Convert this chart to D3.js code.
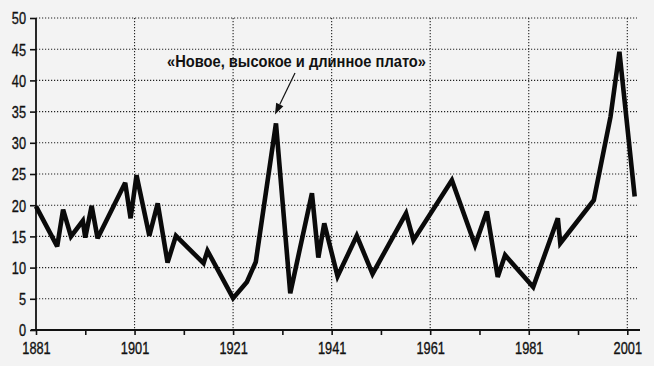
<!DOCTYPE html>
<html><head><meta charset="utf-8">
<script src="https://cdn.jsdelivr.net/npm/d3@7"></script>
<style>
html,body{margin:0;padding:0;background:#f3f3f3;}
svg{display:block;}
text{font-family:'Liberation Sans',Arial,sans-serif;fill:#111;}
</style></head>
<body>
<svg id="c" width="654" height="366"></svg>
<script>
const years = [1881, 1885.3, 1886.5, 1888.1, 1890.5, 1891, 1892.3, 1893.5, 1899.1, 1900.2, 1901.4, 1904, 1905.7, 1907.7, 1909.4, 1915, 1915.8, 1921, 1923.8, 1925.6, 1929.7, 1932.6, 1937, 1938.3, 1939.5, 1942.2, 1946.1, 1949.3, 1956.1, 1957.6, 1965.4, 1970.1, 1972.5, 1974.7, 1976.2, 1981.9, 1986.9, 1987.4, 1994.2, 1997.6, 1999.4, 2002.5];
const values = [19.8, 13.4, 19.3, 15, 17.5, 14.8, 19.9, 14.7, 23.6, 17.9, 24.8, 15.1, 20.3, 10.8, 15.1, 10.7, 12.7, 5.1, 7.7, 10.9, 33.1, 5.9, 21.9, 11.6, 17.1, 8.6, 15.1, 9.0, 18.7, 14.4, 24, 13.6, 19, 8.5, 12, 6.9, 17.9, 13.9, 20.8, 34.2, 44.6, 21.4];
const xTicks = [1881, 1901, 1921, 1941, 1961, 1981, 2001];
const xMinorTicks = [1891, 1911, 1931, 1951, 1971, 1991];
const yTicks = [0, 5, 10, 15, 20, 25, 30, 35, 40, 45, 50];
const annotation = "«Новое, высокое и длинное плато»";
const annotationYear = 1929.7, annotationValue = 33.1;

const svg = d3.select("#c");
const x = d3.scaleLinear().domain([1881, 2001]).range([36, 627.3]);
const y = d3.scaleLinear().domain([0, 50]).range([330, 18]);

// grid
const grid = svg.append("g").attr("stroke", "#222").attr("stroke-width", 1.1).attr("stroke-dasharray", "1.2,1.8");
grid.selectAll("line.h").data(yTicks.filter(d => d > 0)).join("line")
  .attr("x1", 36).attr("x2", 637).attr("y1", d => y(d)).attr("y2", d => y(d));
grid.selectAll("line.v").data(xTicks.filter(d => d > 1881)).join("line")
  .attr("x1", d => x(d)).attr("x2", d => x(d)).attr("y1", y(50)).attr("y2", y(0));

// axes
const yAxis = svg.append("g").attr("transform", `translate(${x(1881)},0)`)
  .call(d3.axisLeft(y).tickValues(yTicks).tickSize(6).tickPadding(4));
const xAxis = svg.append("g").attr("transform", `translate(0,${y(0)})`)
  .call(d3.axisBottom(x).tickValues(xTicks).tickFormat(d3.format("d")).tickSize(5).tickPadding(7));
const xMinor = svg.append("g").attr("transform", `translate(0,${y(0)})`)
  .call(d3.axisBottom(x).tickValues(xMinorTicks).tickFormat("").tickSize(5));
[yAxis, xAxis, xMinor].forEach(g => {
  g.selectAll("path.domain").remove();
  g.selectAll("line").attr("stroke", "#111").attr("stroke-width", 1.6);
  g.selectAll("text").style("font-size", "16.5px").attr("fill", "#111")
    .attr("stroke", "#111").attr("stroke-width", 0.35)
    .attr("lengthAdjust", "spacingAndGlyphs")
    .attr("textLength", function () { return this.textContent.length * 7.1; });
});
yAxis.selectAll("text").attr("dy", "0.36em");
svg.append("line").attr("x1", x(1881)).attr("x2", x(1881)).attr("y1", y(50)).attr("y2", y(0) + 1)
  .attr("stroke", "#111").attr("stroke-width", 1.8);
svg.append("line").attr("x1", 31).attr("x2", 640).attr("y1", y(0)).attr("y2", y(0))
  .attr("stroke", "#111").attr("stroke-width", 1.8);

// series
const pts = years.map((yr, i) => [yr, values[i]]);
svg.append("path").datum(pts)
  .attr("fill", "none").attr("stroke", "#0a0a0a").attr("stroke-width", 4.6)
  .attr("stroke-linejoin", "miter").attr("stroke-miterlimit", 3)
  .attr("d", d3.line().x(d => x(d[0])).y(d => y(d[1])));

// annotation
svg.append("text").attr("x", 296.5).attr("y", 66.5).attr("text-anchor", "middle")
  .style("font-size", "16.5px").style("font-weight", "bold")
  .attr("textLength", 259).attr("lengthAdjust", "spacingAndGlyphs").text(annotation);
const tip = [x(annotationYear) - 1, y(annotationValue) - 9];
const start = [295, 73];
const ang = Math.atan2(tip[1] - start[1], tip[0] - start[0]);
const hl = 11, hw = 4;
const base = [tip[0] - hl * Math.cos(ang), tip[1] - hl * Math.sin(ang)];
svg.append("line").attr("x1", start[0]).attr("y1", start[1]).attr("x2", base[0]).attr("y2", base[1])
  .attr("stroke", "#111").attr("stroke-width", 1.2);
svg.append("path").attr("fill", "#111").attr("d", d3.line()([
  tip,
  [base[0] + hw * Math.sin(ang), base[1] - hw * Math.cos(ang)],
  [base[0] - hw * Math.sin(ang), base[1] + hw * Math.cos(ang)]
]) + "Z");
</script>
</body></html>
